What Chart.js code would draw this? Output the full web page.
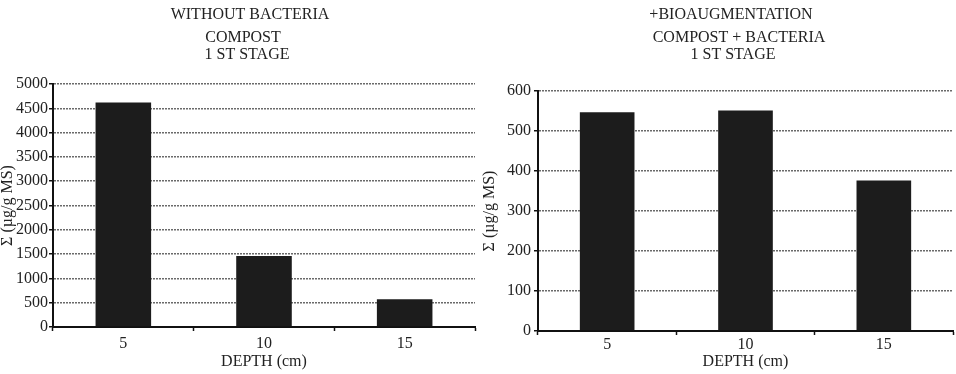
<!DOCTYPE html>
<html>
<head>
<meta charset="utf-8">
<script src="https://cdn.jsdelivr.net/npm/chart.js@4/dist/chart.umd.min.js"></script>
<style>
    body { margin: 0; background: #fff; width: 956px; height: 374px; overflow: hidden; position: relative; }
    canvas { position: absolute; top: 0; }
    #left { left: 0; }
    #right { left: 478px; }
</style>
</head>
<body>
<canvas id="left" width="478" height="374"></canvas>
<canvas id="right" width="478" height="374"></canvas>
<script>
const depths = ['5', '10', '15'];
const withoutBacteria = [4620, 1460, 570];
const withBacteria = [547, 551, 376];
const leftTitle = ['WITHOUT BACTERIA', 'COMPOST', '1 ST STAGE'];
const rightTitle = ['+BIOAUGMENTATION', 'COMPOST + BACTERIA', '1 ST STAGE'];
const yLabel = 'Σ (µg/g MS)';
const xLabel = 'DEPTH (cm)';

const FONT = '"Liberation Serif", "Times New Roman", serif';
const INK = '#222';

// header lines drawn at fixed spots above the plot
const headerPlugin = {
    id: 'header',
    afterDraw(chart, args, opts) {
        const ctx = chart.ctx;
        ctx.save();
        ctx.font = '16px ' + FONT;
        ctx.fillStyle = INK;
        ctx.textAlign = 'center';
        ctx.textBaseline = 'middle';
        opts.lines.forEach((line, i) => {
            ctx.fillText(line, opts.xs[i], opts.ys[i]);
        });
        ctx.restore();
    }
};

function getConfig(values, opt) {
    return {
        type: 'bar',
        data: {
            labels: depths,
            datasets: [{
                data: values,
                backgroundColor: '#1c1c1c',
                borderWidth: 0,
                barPercentage: 0.395,
                categoryPercentage: 1,
            }],
        },
        plugins: [headerPlugin],
        options: {
            responsive: false,
            animation: false,
            layout: {
                padding: { top: opt.top, right: 3, bottom: 0, left: 0 },
            },
            plugins: {
                legend: { display: false },
                tooltip: { enabled: false },
                header: opt.header,
            },
            scales: {
                x: {
                    afterFit: (scale) => { scale.height = opt.xHeight; },
                    border: { color: '#111', width: 2 },
                    grid: {
                        drawOnChartArea: false,
                        tickLength: 4,
                        tickColor: '#111',
                        tickWidth: 1.5,
                    },
                    ticks: {
                        padding: opt.xTickPad,
                        color: INK,
                        font: { family: FONT, size: 16 },
                    },
                    title: {
                        display: true,
                        text: xLabel,
                        color: INK,
                        font: { family: FONT, size: 16 },
                        padding: { top: 0, bottom: 3 },
                    },
                },
                y: {
                    min: 0,
                    max: opt.max,
                    afterFit: (scale) => { scale.width = opt.yWidth; },
                    border: { color: '#111', width: 2, dash: [2, 1] },
                    grid: {
                        color: '#6a6a6a',
                        lineWidth: 1.5,
                        tickLength: 4,
                        tickColor: '#111',
                        tickWidth: 1.5,
                    },
                    ticks: {
                        stepSize: opt.step,
                        padding: opt.yTickPad,
                        color: INK,
                        font: { family: FONT, size: 16 },
                        callback: (v) => String(v),
                    },
                    title: {
                        display: true,
                        text: yLabel,
                        color: INK,
                        font: { family: FONT, size: 16, lineHeight: 1 },
                        padding: { top: opt.yTitlePad, bottom: 0 },
                    },
                },
            },
        },
    };
}

new Chart(document.getElementById('left'), getConfig(withoutBacteria, {
    top: 84, xHeight: 47, yWidth: 53, max: 5000, step: 500,
    xTickPad: 3, yTickPad: 1, yTitlePad: 0,
    header: { lines: leftTitle, xs: [250, 243, 247], ys: [15, 38, 55] },
}));

new Chart(document.getElementById('right'), getConfig(withBacteria, {
    top: 91, xHeight: 43, yWidth: 60, max: 600, step: 100,
    xTickPad: 0, yTickPad: 3, yTitlePad: 4,
    header: { lines: rightTitle, xs: [253, 261, 255], ys: [15, 38, 55] },
}));
</script>
</body>
</html>
